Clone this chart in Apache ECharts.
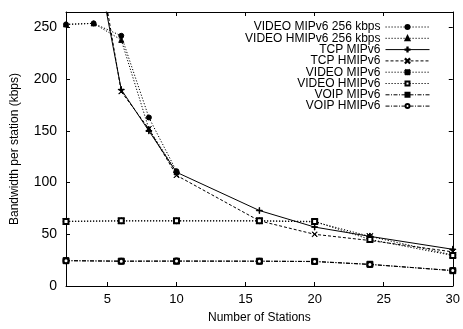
<!DOCTYPE html>
<html><head><meta charset="utf-8">
<script src="https://cdn.jsdelivr.net/npm/echarts@6/dist/echarts.min.js"></script>
<style>html,body{margin:0;padding:0;background:#fff}#c{width:463px;height:329px}</style>
</head><body><div id="c"></div>
<script>
var seriesNames = ['VIDEO MIPv6 256 kbps','VIDEO HMIPv6 256 kbps','TCP MIPv6','TCP HMIPv6','VIDEO MIPv6','VIDEO HMIPv6','VOIP MIPv6','VOIP HMIPv6'];
var stations256 = [2,4,6,8,10];
var video256Mip = [253,254,242,163,111];
var video256Hmip = [253,254,238,152,110];
var tcpStations = [4,6,8,10,16,20,24,30];
var tcpMip = [330,190,150,110,73,57,48,35.5];
var tcpHmip = [345,188,152,107,63,50,44,33];
var stations = [2,6,10,16,20,24,30];
var videoMip = [62.5,63,63,63,62,48,30];
var videoHmip = [62.5,63,63,63,62.5,45,29.5];
var voipMip = [24.5,24,24,24,23.8,21,14.8];
var voipHmip = [24.5,24,24.2,24,23.6,20.8,15];
var xTicks = [5,10,15,20,25,30];
var yTicks = [0,50,100,150,200,250];

function pairs(xs, ys){ return xs.map(function(x,i){ return [x, ys[i]]; }); }
var FONT = 'Liberation Sans';
var plus = 'path://M0,4.6H10V5.4H0Z M4.6,0H5.4V10H4.6Z';
var cross = 'path://M0.6,0L5,4.4L9.4,0L10,0.6L5.6,5L10,9.4L9.4,10L5,5.6L0.6,10L0,9.4L4.4,5L0,0.6Z';
var star = 'path://M0,4.6H10V5.4H0Z M4.6,0H5.4V10H4.6Z M0.6,0L5,4.4L9.4,0L10,0.6L5.6,5L10,9.4L9.4,10L5,5.6L0.6,10L0,9.4L4.4,5L0,0.6Z';

var dotted = [1.2,1.8], dashed = [3,2], dashdot = [4,1.5,1,1.5];
var defs = [
  {x: stations256, y: video256Mip, sym: 'circle', size: 5, dash: dotted},
  {x: stations256, y: video256Hmip, sym: 'triangle', size: 5, dash: dotted},
  {x: tcpStations, y: tcpMip, sym: plus, size: 6, dash: 'solid'},
  {x: tcpStations, y: tcpHmip, sym: cross, size: 5, dash: dashed},
  {x: stations, y: videoMip, sym: star, size: 6, dash: dotted},
  {x: stations, y: videoHmip, sym: 'emptyRect', size: 5, dash: dotted},
  {x: stations, y: voipMip, sym: 'rect', size: 6, dash: dashdot},
  {x: stations, y: voipHmip, sym: 'emptyCircle', size: 5, dash: dashdot}
];
var series = defs.map(function(d, i){
  return {
    name: seriesNames[i], type: 'line', xAxisIndex: 0, yAxisIndex: 0,
    data: pairs(d.x, d.y), symbol: d.sym, symbolSize: d.size, showAllSymbol: true,
    clip: true, animation: false,
    lineStyle: {color: '#000', width: 1, type: d.dash},
    itemStyle: {color: '#000', borderColor: '#000', borderWidth: 1}
  };
});

var chart = echarts.init(document.getElementById('c'), null, {renderer: 'canvas'});
chart.setOption({
  animation: false,
  backgroundColor: '#fff',
  textStyle: {fontFamily: FONT, color: '#000'},
  grid: {left: 66, right: 10, top: 12, bottom: 43, containLabel: false},
  legend: {
    data: seriesNames, orient: 'vertical', align: 'right',
    right: 28, top: 16, itemWidth: 44, itemHeight: 5, itemGap: -0.7,
    lineStyle: {width: 1},
    textStyle: {fontFamily: FONT, fontSize: 12, color: '#000', lineHeight: 11},
    selectedMode: false
  },
  xAxis: [{
    type: 'value', min: 2, max: 30, position: 'bottom',
    name: 'Number of Stations', nameLocation: 'middle', nameGap: 26,
    nameTextStyle: {fontFamily: FONT, fontSize: 12, color: '#000'},
    axisLine: {show: true, onZero: false, lineStyle: {color: '#000', width: 1}},
    axisTick: {show: true, inside: true, length: 4, customValues: xTicks, lineStyle: {color: '#000'}},
    axisLabel: {customValues: xTicks, fontFamily: FONT, fontSize: 13, color: '#000', margin: 7},
    splitLine: {show: false}
  }, {
    type: 'value', min: 2, max: 30, position: 'top',
    axisLine: {show: true, onZero: false, lineStyle: {color: '#000', width: 1}},
    axisTick: {show: true, inside: true, length: 4, customValues: xTicks, lineStyle: {color: '#000'}},
    axisLabel: {show: false}, splitLine: {show: false}
  }],
  yAxis: [{
    type: 'value', min: 0, max: 265, position: 'left',
    name: 'Bandwidth per station (kbps)', nameLocation: 'middle', nameGap: 45, nameRotate: 90,
    nameTextStyle: {fontFamily: FONT, fontSize: 12, color: '#000'},
    axisLine: {show: true, onZero: false, lineStyle: {color: '#000', width: 1}},
    axisTick: {show: true, inside: true, length: 4, customValues: yTicks, lineStyle: {color: '#000'}},
    axisLabel: {customValues: yTicks, fontFamily: FONT, fontSize: 14, color: '#000', margin: 9},
    splitLine: {show: false}
  }, {
    type: 'value', min: 0, max: 265, position: 'right',
    axisLine: {show: true, onZero: false, lineStyle: {color: '#000', width: 1}},
    axisTick: {show: true, inside: true, length: 4, customValues: yTicks, lineStyle: {color: '#000'}},
    axisLabel: {show: false}, splitLine: {show: false}
  }],
  series: series
});
</script>
</body></html>
